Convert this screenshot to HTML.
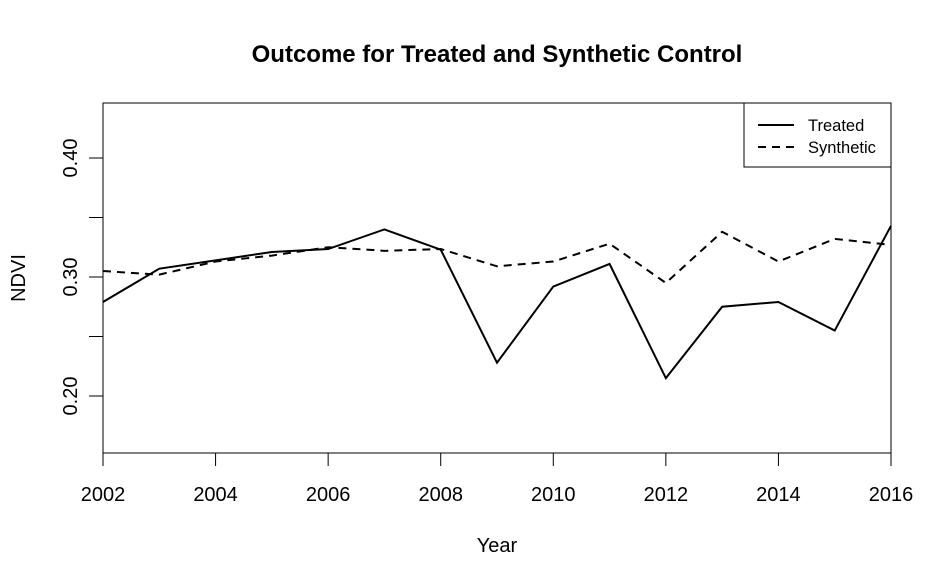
<!DOCTYPE html>
<html><head><meta charset="utf-8"><style>
body{margin:0;background:#fff;}
svg{display:block;font-family:"Liberation Sans",Arial,sans-serif;}
</style></head><body>
<svg id="chart" width="944" height="584">
<text x="497" y="62" text-anchor="middle" font-size="24" font-weight="bold">Outcome for Treated and Synthetic Control</text>
<text x="497" y="552" text-anchor="middle" font-size="20">Year</text>
<text transform="translate(25,278) rotate(-90)" text-anchor="middle" font-size="20">NDVI</text>
<rect x="103" y="103" width="788" height="350" fill="none" stroke="#000" stroke-width="1"/>
<g id="axes"></g>
<g id="series"></g>
<g>
<rect x="744" y="103" width="147" height="64" fill="#fff" stroke="#000"/>
<line x1="758" y1="125" x2="794" y2="125" stroke="#000" stroke-width="2"/>
<text x="808" y="131" font-size="16.5">Treated</text>
<line x1="758" y1="147" x2="794" y2="147" stroke="#000" stroke-width="2" stroke-dasharray="8,6"/>
<text x="808" y="153" font-size="16.5">Synthetic</text>
</g>
</svg>
<script>
const years=[2002,2003,2004,2005,2006,2007,2008,2009,2010,2011,2012,2013,2014,2015,2016];
const treated=[0.279,0.307,0.314,0.321,0.3235,0.340,0.323,0.228,0.292,0.311,0.215,0.275,0.279,0.255,0.343];
const synthetic=[0.305,0.302,0.313,0.318,0.325,0.322,0.3235,0.309,0.313,0.328,0.295,0.338,0.313,0.332,0.327];
const xTicks=[2002,2004,2006,2008,2010,2012,2014,2016];
const yTicks=[0.20,0.25,0.30,0.35,0.40];
const yLabels=["0.20","","0.30","","0.40"];
const NS="http://www.w3.org/2000/svg";
function xs(v){return 103+(v-2002)*(788/14);}
function ys(v){return 277-(v-0.30)*1190;}
const ax=document.getElementById('axes');
function mk(t,a){const e=document.createElementNS(NS,t);for(const k in a)e.setAttribute(k,a[k]);return e;}
xTicks.forEach(t=>{
 const l=mk('line',{x1:xs(t),x2:xs(t),y1:453,y2:466,stroke:'#000'});
 
 
 ax.appendChild(l);
 const tx=mk('text',{x:xs(t),y:501,'text-anchor':'middle','font-size':20});
 tx.textContent=t;
 
 
 ax.appendChild(tx);
});
yTicks.forEach((t,i)=>{
 const l=mk('line',{x1:89,x2:103,y1:ys(t),y2:ys(t),stroke:'#000'});
 
 
 ax.appendChild(l);
 if(yLabels[i]){
 const tx=mk('text',{transform:`translate(77,${ys(t)}) rotate(-90)`,'text-anchor':'middle','font-size':20});
 tx.textContent=yLabels[i];
 
 
 ax.appendChild(tx);}
});
const sg=document.getElementById('series');
function line(vals,dash,name){
 const p=mk('polyline',{points:vals.map((v,i)=>xs(years[i])+','+ys(v)).join(' '),fill:'none',stroke:'#000','stroke-width':2});
 if(dash)p.setAttribute('stroke-dasharray','8,6');
 
 
 sg.appendChild(p);
}
line(treated,false,'treated-line');
line(synthetic,true,'synthetic-line');
</script>
</body></html>
